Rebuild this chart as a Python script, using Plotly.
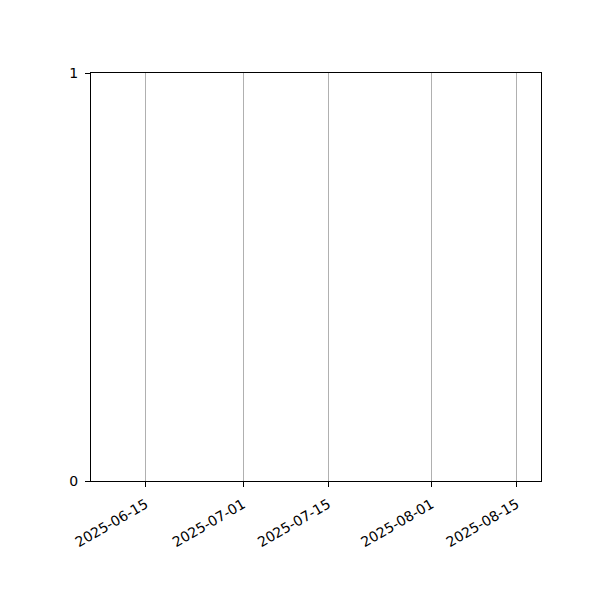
import plotly.graph_objects as go

# axis extents and ticks (the plot itself holds no data)
x_range = ["2025-06-06", "2025-08-19"]
tick_dates = ["2025-06-15", "2025-07-01", "2025-07-15", "2025-08-01", "2025-08-15"]
y_ticks = [0, 1]

fig = go.Figure()
# empty trace so the x axis is a date axis
fig.add_trace(go.Scatter(x=[], y=[], mode="lines", showlegend=False))

# page has an 8px body margin, so margins are shifted to land the box where the reference has it
fig.update_layout(
    width=600,
    height=600,
    margin=dict(l=83, r=67, t=65, b=127),
    plot_bgcolor="white",
    paper_bgcolor="white",
    font=dict(family="DejaVu Sans", size=14, color="black"),
    showlegend=False,
)
fig.update_xaxes(
    type="date",
    range=x_range,
    tickmode="array",
    tickvals=tick_dates,
    ticktext=tick_dates,
    tickangle=-30,
    showgrid=True,
    gridcolor="#b0b0b0",
    gridwidth=1,
    ticks="outside",
    ticklen=5,
    tickcolor="black",
    ticklabelstandoff=4,
    showline=True,
    linecolor="black",
    linewidth=1,
    mirror=True,
    zeroline=False,
)
fig.update_yaxes(
    range=[0, 1],
    tickmode="array",
    tickvals=y_ticks,
    showgrid=False,
    ticks="outside",
    ticklen=5,
    tickcolor="black",
    ticklabelstandoff=4,
    showline=True,
    linecolor="black",
    linewidth=1,
    mirror=True,
    zeroline=False,
)

fig.write_html("out.html")
